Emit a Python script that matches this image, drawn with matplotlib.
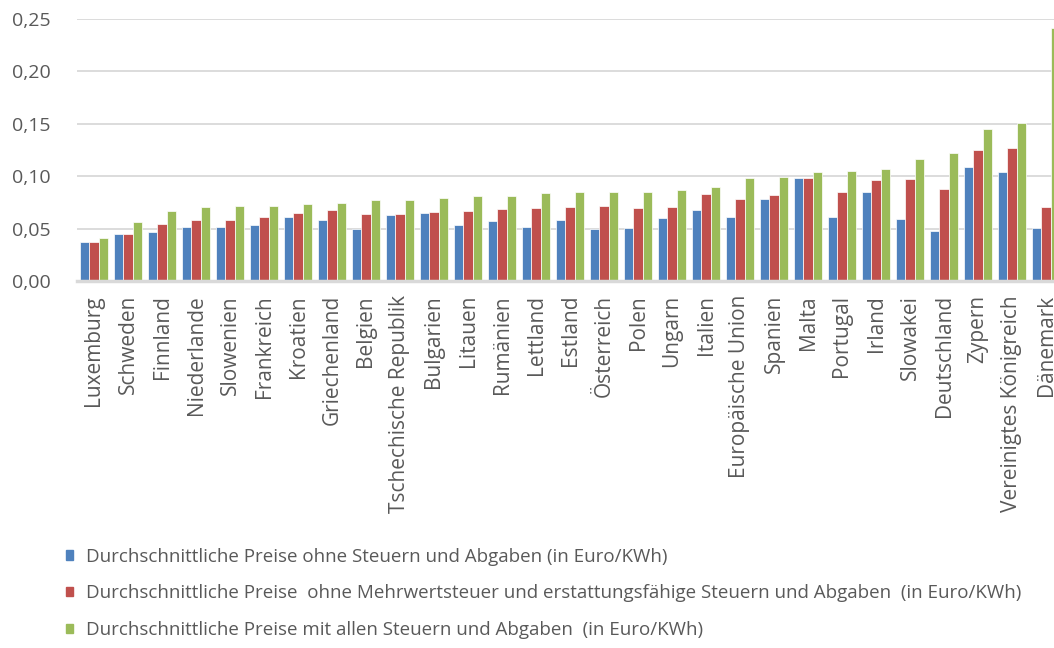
import matplotlib.pyplot as plt
import numpy as np
from matplotlib.ticker import FuncFormatter
from matplotlib.patches import Patch

plt.rcParams['font.family'] = ['Open Sans', 'DejaVu Sans']

# Länder (sortiert nach Gesamtpreis)
laender = ["Luxemburg", "Schweden", "Finnland", "Niederlande", "Slowenien",
           "Frankreich", "Kroatien", "Griechenland", "Belgien",
           "Tschechische Republik", "Bulgarien", "Litauen", "Rumänien",
           "Lettland", "Estland", "Österreich", "Polen", "Ungarn", "Italien",
           "Europäische Union", "Spanien", "Malta", "Portugal", "Irland",
           "Slowakei", "Deutschland", "Zypern", "Vereinigtes Königreich",
           "Dänemark"]

# Preise in Euro/KWh
ohne_steuern = [0.0375, 0.0448, 0.0470, 0.0511, 0.0515, 0.0534, 0.0610,
                0.0578, 0.0496, 0.0626, 0.0648, 0.0530, 0.0572, 0.0515,
                0.0578, 0.0496, 0.0502, 0.0597, 0.0673, 0.0607, 0.0778,
                0.0985, 0.0613, 0.0845, 0.0594, 0.0480, 0.1090, 0.1039,
                0.0505]
ohne_mwst = [0.0375, 0.0451, 0.0540, 0.0581, 0.0584, 0.0610, 0.0651,
             0.0673, 0.0635, 0.0635, 0.0658, 0.0667, 0.0683, 0.0692,
             0.0705, 0.0712, 0.0692, 0.0702, 0.0826, 0.0785, 0.0816,
             0.0985, 0.0851, 0.0959, 0.0972, 0.0874, 0.1252, 0.1271,
             0.0705]
mit_steuern = [0.0410, 0.0562, 0.0667, 0.0705, 0.0712, 0.0718, 0.0734,
               0.0743, 0.0772, 0.0772, 0.0791, 0.0807, 0.0813, 0.0839,
               0.0848, 0.0848, 0.0848, 0.0864, 0.0899, 0.0978, 0.0991,
               0.1036, 0.1048, 0.1064, 0.1163, 0.1220, 0.1445, 0.1503,
               0.2408]

labels = ["Durchschnittliche Preise ohne Steuern und Abgaben (in Euro/KWh)",
          "Durchschnittliche Preise  ohne Mehrwertsteuer und erstattungsfähige Steuern und Abgaben  (in Euro/KWh)",
          "Durchschnittliche Preise mit allen Steuern und Abgaben  (in Euro/KWh)"]
farben = ['#4F81BD', '#C0504D', '#9BBB59']

fig = plt.figure(figsize=(10.54, 6.48), dpi=100)
ax = fig.add_axes([77 / 1054, 1 - 281 / 648, 986 / 1054, 262.3 / 648])

x = np.arange(len(laender))
w = 0.8 / 3
for i, werte in enumerate([ohne_steuern, ohne_mwst, mit_steuern]):
    ax.bar(x + (i - 1) * w, werte, width=w, color=farben[i],
           edgecolor='white', linewidth=0.5, zorder=3)

ax.set_xlim(-0.5, len(laender) - 0.5)
ax.set_ylim(0, 0.25)
ax.set_yticks(np.arange(0, 0.26, 0.05))
ax.yaxis.set_major_formatter(FuncFormatter(lambda v, p: f"{v:.2f}".replace('.', ',')))
ax.grid(axis='y', color='#D9D9D9', linewidth=1.3, zorder=0)
ax.set_axisbelow(True)

for s in ['top', 'right', 'left']:
    ax.spines[s].set_visible(False)
ax.spines['bottom'].set_color('#D9D9D9')
ax.spines['bottom'].set_linewidth(2.5)
ax.spines['bottom'].set_zorder(4)

ax.set_xticks(x)
ax.set_xticklabels(laender, rotation=90, fontsize=15, color='#595959')
ax.tick_params(axis='x', length=0, pad=10)
ax.tick_params(axis='y', length=0, labelsize=14, labelcolor='#595959', pad=19)

handles = [Patch(color=c) for c in farben]
fig.legend(handles, labels, loc='upper left', bbox_to_anchor=(58 / 1054, 1 - 540 / 648),
           frameon=False, fontsize=13.5, labelcolor='#595959',
           handlelength=0.4, handleheight=0.4, handletextpad=0.7,
           labelspacing=1.0, borderaxespad=0)

fig.savefig('out.png', dpi=100)
